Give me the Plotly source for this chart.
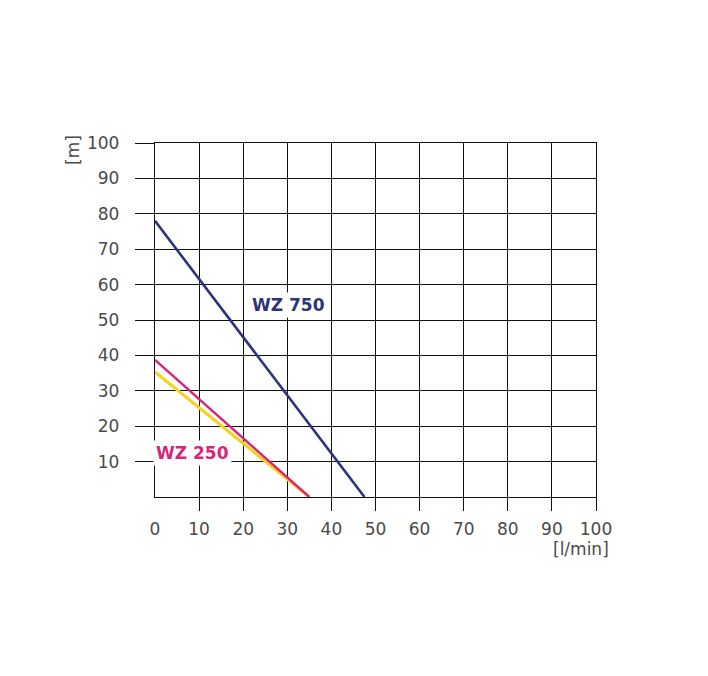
import plotly.graph_objects as go

# data
flow_750 = [0, 47.5]
head_750 = [78, 0]
flow_250 = [0, 35]
head_250 = [38.7, 0]
flow_y = [0, 35]
head_y = [35.3, 0]
x_ticks = [0, 10, 20, 30, 40, 50, 60, 70, 80, 90, 100]
y_ticks = [10, 20, 30, 40, 50, 60, 70, 80, 90, 100]
labels = ["WZ 750", "WZ 250"]
label_x = [30.2, 8.6]
label_y = [54.2, 12.4]

navy = "#2e3479"
pink = "#d6257a"
yellow = "#f6d21c"
gridc = "#111111"
txtc = "#4a4a4a"

fig = go.Figure()
fig.add_trace(go.Scatter(x=flow_y, y=head_y, mode="lines",
                         line=dict(color=yellow, width=3.2), showlegend=False))
fig.add_trace(go.Scatter(x=flow_250, y=head_250, mode="lines",
                         line=dict(color=pink, width=2.4), showlegend=False))
fig.add_trace(go.Scatter(x=flow_750, y=head_750, mode="lines",
                         line=dict(color=navy, width=2.6), showlegend=False))

for t, xx, yy, c in zip(labels, label_x, label_y, [navy, pink]):
    fig.add_annotation(x=xx, y=yy, text="<b>%s</b>" % t, showarrow=False,
                       font=dict(family="DejaVu Sans", size=17, color=c),
                       bgcolor="white", borderpad=2)

fig.add_annotation(xref="paper", yref="paper", x=1, y=0, xanchor="right",
                   yanchor="top", xshift=15, yshift=-40, text="[l/min]",
                   showarrow=False, font=dict(family="DejaVu Sans", size=17, color=txtc))
fig.add_annotation(xref="paper", yref="paper", x=0, y=1, xanchor="center",
                   yanchor="middle", xshift=-82, yshift=-7, text="[m]", textangle=-90,
                   showarrow=False, font=dict(family="DejaVu Sans", size=17, color=txtc))

fig.update_xaxes(range=[0, 100], tickvals=x_ticks, ticktext=[str(v) for v in x_ticks],
                 ticks="", showgrid=True, gridcolor=gridc, gridwidth=1.3,
                 showline=True, linecolor=gridc, linewidth=1.3, mirror=True,
                 zeroline=False, tickfont=dict(family="DejaVu Sans", size=17, color=txtc),
                 ticklabelstandoff=16,
                 minor=dict(tickvals=x_ticks[1:], ticks="outside", ticklen=13,
                            tickcolor=gridc, tickwidth=1.3, showgrid=False))
fig.update_yaxes(range=[0, 100], tickvals=y_ticks, ticks="outside", ticklen=19,
                 tickcolor=gridc, tickwidth=1.3,
                 showgrid=True, gridcolor=gridc, gridwidth=1.3,
                 showline=True, linecolor=gridc, linewidth=1.3, mirror=True,
                 zeroline=False, tickfont=dict(family="DejaVu Sans", size=17, color=txtc),
                 ticklabelstandoff=12)
fig.update_layout(width=708, height=676, margin=dict(l=155, r=112, t=143, b=179),
                  plot_bgcolor="white", paper_bgcolor="white")
fig.write_html("out.html")
